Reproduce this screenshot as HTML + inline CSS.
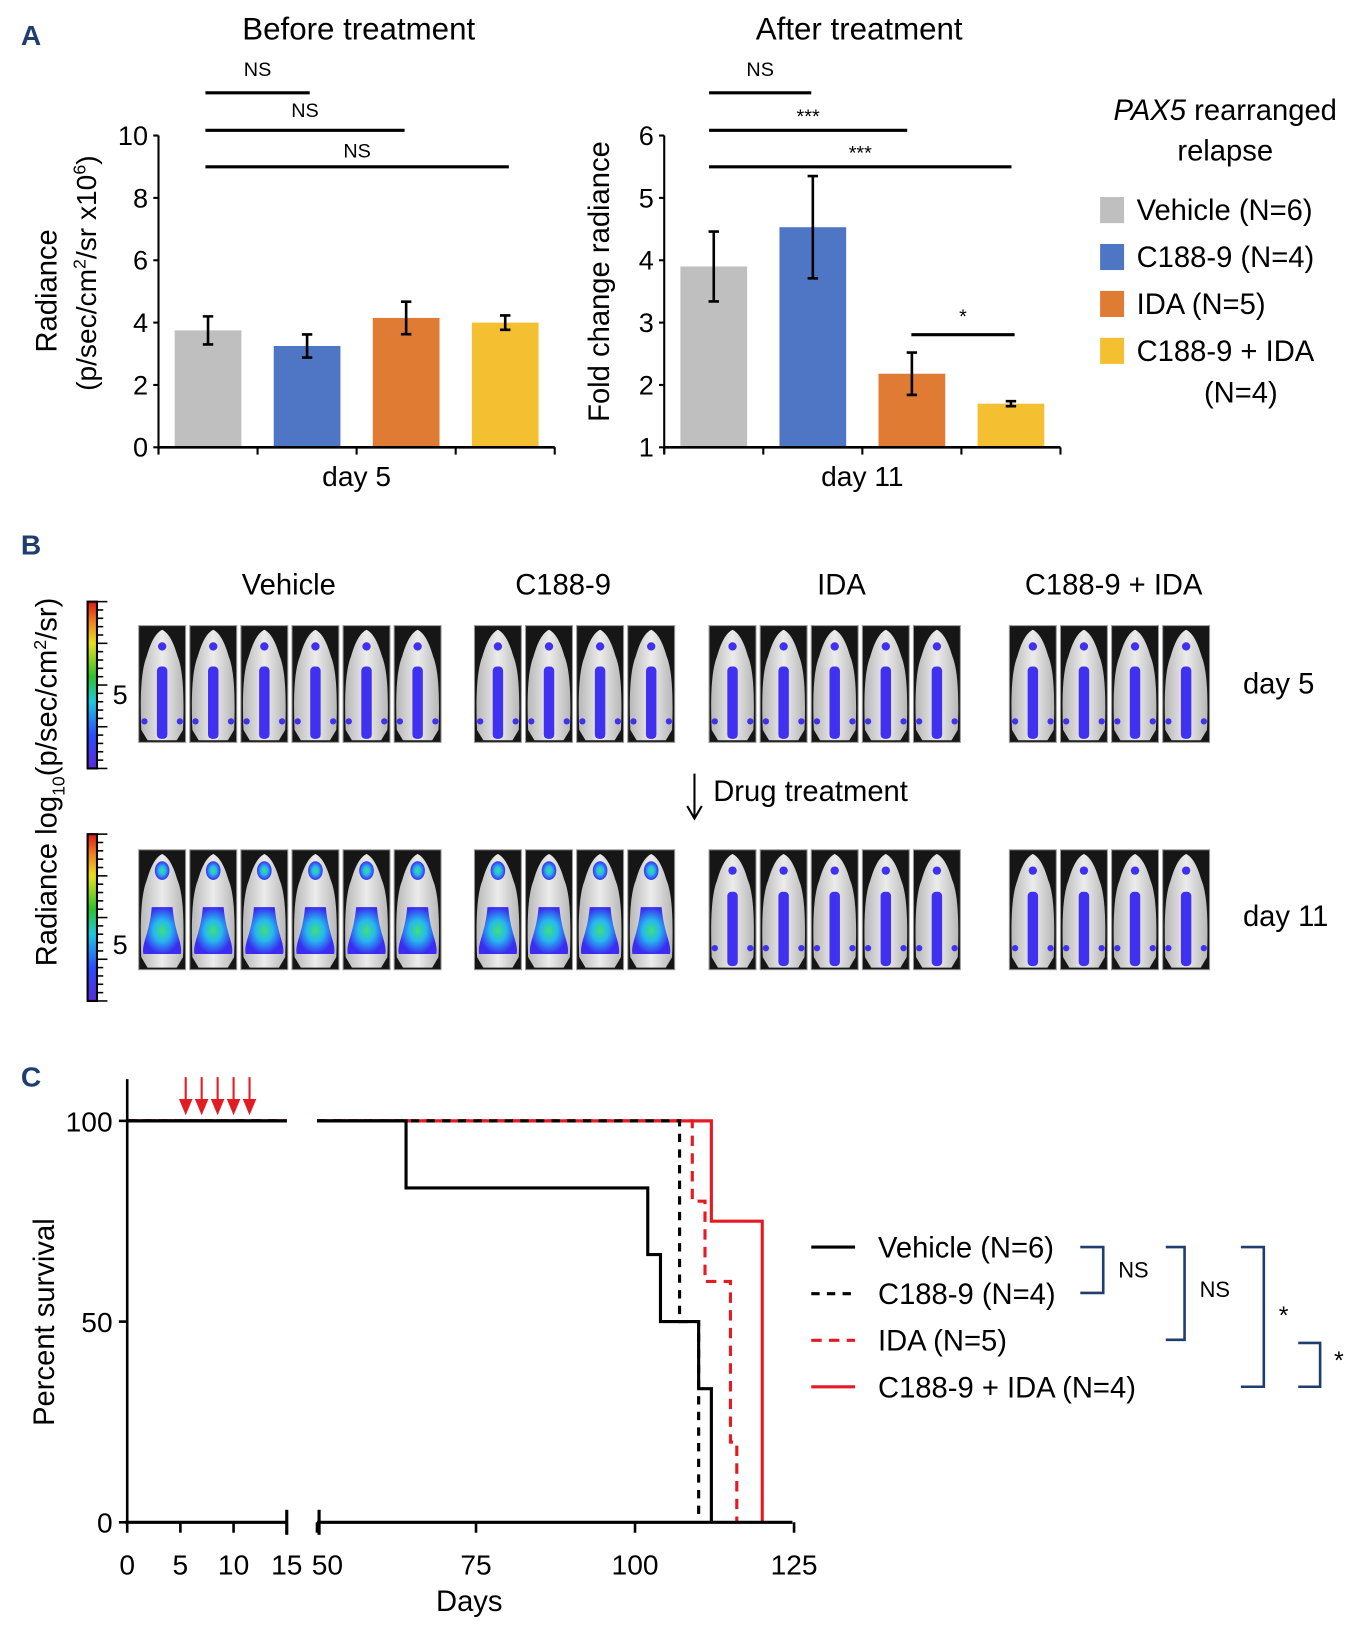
<!DOCTYPE html>
<html><head><meta charset="utf-8"><style>
html,body{margin:0;padding:0;background:#fff;}
svg{display:block;font-family:"Liberation Sans",sans-serif;}
</style></head><body>
<svg id="fig" width="1366" height="1637" viewBox="0 0 1310 1570" preserveAspectRatio="none" xmlns="http://www.w3.org/2000/svg">
<defs>
<linearGradient id="cbar" x1="0" y1="1" x2="0" y2="0">
<stop offset="0" stop-color="#5a2bd9"/><stop offset="0.2" stop-color="#2a4cff"/><stop offset="0.4" stop-color="#20c8e0"/><stop offset="0.55" stop-color="#2ec22e"/><stop offset="0.75" stop-color="#e8e020"/><stop offset="0.88" stop-color="#f08020"/><stop offset="1" stop-color="#e01818"/>
</linearGradient>
<radialGradient id="glow" cx="0.5" cy="0.5" r="0.5">
<stop offset="0" stop-color="#3de07a"/><stop offset="0.45" stop-color="#26b8f0"/><stop offset="1" stop-color="#3a2cf0"/>
</radialGradient>
<linearGradient id="fur" x1="0" y1="0" x2="1" y2="0">
<stop offset="0" stop-color="#b8b8b8"/><stop offset="0.5" stop-color="#ececec"/><stop offset="1" stop-color="#b8b8b8"/>
</linearGradient>
</defs>
<g fill="#1f3d6e" font-weight="bold" font-size="27">
<text x="20" y="43">A</text>
<text x="20" y="532">B</text>
<text x="20" y="1042">C</text>
</g>
<g id="panelA1"></g>
<g id="panelA2"></g>
<g id="legendA"></g>
<g id="panelB"></g>
<g id="panelC"></g>
</svg>
<script>
// ---- Panel A data ----
const groups = ["Vehicle (N=6)", "C188-9 (N=4)", "IDA (N=5)", "C188-9 + IDA"];
const colors = ["#bfbfbf", "#4f76c4", "#e07b33", "#f4bf31"];
const day5Mean = [3.75, 3.25, 4.15, 4.0];
const day5Err = [0.45, 0.37, 0.52, 0.23];
const day11Mean = [3.9, 4.53, 2.18, 1.7];
const day11Err = [0.56, 0.82, 0.34, 0.04];
const day5Ticks = [0, 2, 4, 6, 8, 10];
const day11Ticks = [1, 2, 3, 4, 5, 6];
// ---- Panel C data ----
const vehT = [0, 64, 102, 104, 110, 112];
const vehS = [100, 83.3, 66.7, 50, 33.3, 0];
const c188T = [0, 107, 110];
const c188S = [100, 50, 0];
const idaT = [0, 109, 111, 115, 116];
const idaS = [100, 80, 60, 20, 0];
const comboT = [0, 112, 120];
const comboS = [100, 75, 0];
const cXTicksLeft = [0, 5, 10, 15];
const cXTicksRight = [50, 75, 100, 125];
const cYTicks = [0, 50, 100];
const dosingDays = [5.5, 7, 8.5, 10, 11.5];

const NS = "http://www.w3.org/2000/svg";
function mk(parent, tag, attrs, text) {
  const e = document.createElementNS(NS, tag);
  for (const k in attrs) e.setAttribute(k, attrs[k]);
  if (text !== undefined) e.textContent = text;
  parent.appendChild(e);
  return e;
}

function barChart(g, means, errs, ticks, x0, x1, yTop, yBot, vmin, vmax, title, titleX, xlab) {
  const y = v => yBot - (v - vmin) / (vmax - vmin) * (yBot - yTop);
  const bw = (x1 - x0) / means.length;
  means.forEach((m, i) => {
    const cx = x0 + bw * (i + 0.5);
    const r = mk(g, 'rect', {x: cx - 32, y: y(m), width: 64, height: yBot - y(m), fill: colors[i]});
    
    
    const e = errs[i];
    const eb = mk(g, 'path', {d: `M${cx},${y(m + e)}V${y(m - e)}M${cx - 5},${y(m + e)}H${cx + 5}M${cx - 5},${y(m - e)}H${cx + 5}`, stroke: '#000', 'stroke-width': 2.5, fill: 'none'});
    
    
  });
  mk(g, 'line', {x1: x0, y1: yTop, x2: x0, y2: yBot + 6, stroke: '#000', 'stroke-width': 2});
  mk(g, 'line', {x1: x0, y1: yBot, x2: x1, y2: yBot, stroke: '#000', 'stroke-width': 2.5});
  for (let i = 0; i <= means.length; i++) mk(g, 'line', {x1: x0 + bw * i, y1: yBot, x2: x0 + bw * i, y2: yBot + 7, stroke: '#000', 'stroke-width': 2});
  ticks.forEach(t => {
    mk(g, 'line', {x1: x0 - 5, y1: y(t), x2: x0, y2: y(t), stroke: '#000', 'stroke-width': 2});
    const tl = mk(g, 'text', {x: x0 - 10, y: y(t) + 9, 'text-anchor': 'end', 'font-size': 26}, t);
    
    
  });
  const tt = mk(g, 'text', {x: titleX, y: 38, 'text-anchor': 'middle', 'font-size': 30}, title);
  
  
  const xl = mk(g, 'text', {x: (x0 + x1) / 2, y: 466, 'text-anchor': 'middle', 'font-size': 27}, xlab);
  
  
  return {y, bw};
}
function sig(g, xa, xb, yy, label, ly) {
  mk(g, 'line', {x1: xa, y1: yy, x2: xb, y2: yy, stroke: '#000', 'stroke-width': 3});
  const t = mk(g, 'text', {x: (xa + xb) / 2, y: ly, 'text-anchor': 'middle', 'font-size': 19}, label);
  
  
}

const gA1 = document.getElementById('panelA1');
barChart(gA1, day5Mean, day5Err, day5Ticks, 152, 532, 130, 429, 0, 10, 'Before treatment', 344, 'day 5');
sig(gA1, 197, 297, 89, 'NS', 73);
sig(gA1, 197, 388, 125, 'NS', 112);
sig(gA1, 197, 488, 160, 'NS', 151);
let yl = mk(gA1, 'text', {transform: 'translate(54,279) rotate(-90)', 'text-anchor': 'middle', 'font-size': 28}, 'Radiance');
 
yl = mk(gA1, 'text', {transform: 'translate(92,262) rotate(-90)', 'text-anchor': 'middle', 'font-size': 27});
yl.innerHTML = '(p/sec/cm<tspan font-size="17" dy="-10">2</tspan><tspan dy="10">/sr x10</tspan><tspan font-size="17" dy="-10">6</tspan><tspan dy="10">)</tspan>';
 

const gA2 = document.getElementById('panelA2');
barChart(gA2, day11Mean, day11Err, day11Ticks, 637, 1017, 130, 429, 1, 6, 'After treatment', 824, 'day 11');
sig(gA2, 680, 778, 89, 'NS', 73);
sig(gA2, 680, 870, 125, '***', 118);
sig(gA2, 680, 970, 160, '***', 153);
sig(gA2, 874, 973, 321, '*', 310);
yl = mk(gA2, 'text', {transform: 'translate(584,270) rotate(-90)', 'text-anchor': 'middle', 'font-size': 28}, 'Fold change radiance');
 

const gL = document.getElementById('legendA');
let lt = mk(gL, 'text', {x: 1175, y: 115, 'text-anchor': 'middle', 'font-size': 28});
lt.innerHTML = '<tspan font-style="italic">PAX5</tspan> rearranged';
 
lt = mk(gL, 'text', {x: 1175, y: 154, 'text-anchor': 'middle', 'font-size': 28}, 'relapse');
 
groups.forEach((name, i) => {
  const cy = 201 + i * 45;
  const sw = mk(gL, 'rect', {x: 1055, y: cy - 12, width: 23, height: 25, fill: colors[i]});
   
  const t = mk(gL, 'text', {x: 1090, y: cy + 10, 'font-size': 28}, name);
   
});
lt = mk(gL, 'text', {x: 1190, y: 386, 'text-anchor': 'middle', 'font-size': 28}, '(N=4)');
 

// ---- Panel B ----
const gB = document.getElementById('panelB');
const bLabels = ["Vehicle", "C188-9", "IDA", "C188-9 + IDA"];
const bLabelX = [277, 540, 807, 1068];
const bStart = [133, 455, 680, 968];
const bCount = [6, 4, 5, 4];
bLabels.forEach((l, i) => {
  const t = mk(gB, 'text', {x: bLabelX[i], y: 570, 'text-anchor': 'middle', 'font-size': 28}, l);
   
});
function mouse(x, y, w, h, strong) {
  const g = mk(gB, 'g', {});
   
  mk(g, 'rect', {x, y, width: w, height: h, fill: '#161616', stroke: '#999', 'stroke-width': 1});
  const cx = x + w / 2;
  mk(g, 'path', {d: `M${cx},${y + 4} C${cx + 8},${y + 8} ${cx + 12},${y + 20} ${cx + 15},${y + 30} C${cx + 21},${y + 45} ${cx + 21},${y + 75} ${cx + 20},${y + h - 12} L${cx + 14},${y + h - 2} L${cx - 14},${y + h - 2} L${cx - 20},${y + h - 12} C${cx - 21},${y + 75} ${cx - 21},${y + 45} ${cx - 15},${y + 30} C${cx - 12},${y + 20} ${cx - 8},${y + 8} ${cx},${y + 4}Z`, fill: 'url(#fur)'});
  if (strong) {
    mk(g, 'path', {d: `M${cx - 10},${y + 55} C${cx - 12},${y + 80} ${cx - 20},${y + 90} ${cx - 18},${y + h - 15} L${cx + 18},${y + h - 15} C${cx + 20},${y + 90} ${cx + 12},${y + 80} ${cx + 10},${y + 55}Z`, fill: 'url(#glow)'});
    mk(g, 'ellipse', {cx, cy: y + 20, rx: 7, ry: 9, fill: 'url(#glow)'});
  } else {
    mk(g, 'rect', {x: cx - 5, y: y + h * 0.35, width: 10, height: h * 0.62, fill: '#4030f0', rx: 4});
    mk(g, 'circle', {cx, cy: y + 20, r: 4, fill: '#4030f0'});
    mk(g, 'circle', {cx: cx - 17, cy: y + h * 0.82, r: 3, fill: '#4030f0'});
    mk(g, 'circle', {cx: cx + 17, cy: y + h * 0.82, r: 3, fill: '#4030f0'});
  }
}
bStart.forEach((s, gi) => {
  for (let k = 0; k < bCount[gi]; k++) {
    mouse(s + k * 49, 600, 45, 112, false);
    mouse(s + k * 49, 815, 45, 115, gi < 2);
  }
});
[[577, 666], [800, 906]].forEach(([top, fy]) => {
  const cb = mk(gB, 'rect', {x: 84, y: top, width: 9, height: 160, fill: 'url(#cbar)', stroke: '#000', 'stroke-width': 2});
   
  for (let k = 0; k <= 20; k++) mk(gB, 'line', {x1: 93, y1: top + k * 8, x2: k % 5 === 0 ? 103 : 99, y2: top + k * 8, stroke: '#000', 'stroke-width': 1.5});
  const t = mk(gB, 'text', {x: 108, y: fy + 9, 'font-size': 26}, '5');
   
});
let bt = mk(gB, 'text', {transform: 'translate(54,750) rotate(-90)', 'text-anchor': 'middle', 'font-size': 28});
bt.innerHTML = 'Radiance log<tspan font-size="17" dy="8">10</tspan><tspan dy="-8">(p/sec/cm</tspan><tspan font-size="17" dy="-10">2</tspan><tspan dy="10">/sr)</tspan>';
 
bt = mk(gB, 'text', {x: 1192, y: 665, 'font-size': 28}, 'day 5');  
bt = mk(gB, 'text', {x: 1192, y: 888, 'font-size': 28}, 'day 11');  
mk(gB, 'path', {d: 'M666,742V783M659,773L666,785L673,773', stroke: '#000', 'stroke-width': 2, fill: 'none'});
bt = mk(gB, 'text', {x: 684, y: 768, 'font-size': 28}, 'Drug treatment');  

// ---- Panel C ----
const gC = document.getElementById('panelC');
const yC = v => 1460 - v / 100 * 385;
const xC = d => d <= 15 ? 122 + d * 10.2 : 304 + (d - 50) * 6.1;
function drawKM(T, S, color, dash, name) {
  let d = '';
  for (let i = 0; i < T.length; i++) {
    const xs = xC(Math.max(T[i], 50));
    if (i === 0) d += `M${xC(50)},${yC(S[0])}`;
    else d += `H${xs}V${yC(S[i])}`;
  }
  const p = mk(gC, 'path', {d, stroke: color, 'stroke-width': 3, fill: 'none', 'stroke-dasharray': dash});
   
  const l = mk(gC, 'line', {x1: 122, y1: yC(S[0]), x2: 275, y2: yC(S[0]), stroke: color, 'stroke-width': 3, 'stroke-dasharray': dash});
   
}
drawKM(idaT, idaS, '#e31b23', '10,7', 'ida-curve');
drawKM(comboT, comboS, '#e31b23', 'none', 'combo-curve');
drawKM(vehT, vehS, '#000', 'none', 'vehicle-curve');
drawKM(c188T, c188S, '#000', '8,7', 'c188-curve');
mk(gC, 'line', {x1: 122, y1: 1035, x2: 122, y2: 1462, stroke: '#000', 'stroke-width': 2.5});
mk(gC, 'line', {x1: 120, y1: 1460, x2: 275, y2: 1460, stroke: '#000', 'stroke-width': 3});
mk(gC, 'line', {x1: 304, y1: 1460, x2: 760, y2: 1460, stroke: '#000', 'stroke-width': 3});
mk(gC, 'line', {x1: 275, y1: 1448, x2: 275, y2: 1472, stroke: '#000', 'stroke-width': 3});
mk(gC, 'line', {x1: 306, y1: 1448, x2: 306, y2: 1472, stroke: '#000', 'stroke-width': 3});
cXTicksLeft.concat(cXTicksRight).forEach(t => {
  const x = xC(t);
  mk(gC, 'line', {x1: x, y1: 1460, x2: x, y2: 1470, stroke: '#000', 'stroke-width': 2.5});
  const tl = mk(gC, 'text', {x: t === 50 ? x + 10 : x, y: 1510, 'text-anchor': 'middle', 'font-size': 27}, t);
   
});
cYTicks.forEach(t => {
  mk(gC, 'line', {x1: 114, y1: yC(t), x2: 122, y2: yC(t), stroke: '#000', 'stroke-width': 2.5});
  const tl = mk(gC, 'text', {x: 108, y: yC(t) + 10, 'text-anchor': 'end', 'font-size': 27}, t);
   
});
let ct = mk(gC, 'text', {x: 450, y: 1545, 'text-anchor': 'middle', 'font-size': 28}, 'Days');
 
ct = mk(gC, 'text', {transform: 'translate(52,1268) rotate(-90)', 'text-anchor': 'middle', 'font-size': 28}, 'Percent survival');
 
dosingDays.forEach(d => {
  const x = xC(d);
  const a = mk(gC, 'path', {d: `M${x},1033V1058M${x - 5},1055L${x},1067L${x + 5},1055Z`, stroke: '#e31b23', 'stroke-width': 2, fill: '#e31b23'});
   
});
const legC = [["Vehicle (N=6)", '#000', 'none'], ["C188-9 (N=4)", '#000', '8,7'], ["IDA (N=5)", '#e31b23', '10,7'], ["C188-9 + IDA (N=4)", '#e31b23', 'none']];
legC.forEach((e, i) => {
  const y = 1196 + i * 44.7;
  mk(gC, 'line', {x1: 778, y1: y, x2: 820, y2: y, stroke: e[1], 'stroke-width': 3, 'stroke-dasharray': e[2]});
  const t = mk(gC, 'text', {x: 842, y: y + 10, 'font-size': 28}, e[0]);
   
});
const bc = '#1f3d6e';
[[1036, 1196, 1240, 1058], [1118, 1196, 1285, 1136], [1190, 1196, 1330, 1212], [1245, 1288, 1330, 1266]].forEach(([x, y1, y2, xr]) => {
  const b = mk(gC, 'path', {d: `M${x},${y1}H${xr}V${y2}H${x}`, stroke: bc, 'stroke-width': 2.5, fill: 'none'});
   
});
[[1087, 1225, 'NS', 21], [1165, 1244, 'NS', 21], [1231, 1270, '*', 24], [1284, 1313, '*', 24]].forEach(([x, y, s, fs]) => {
  const t = mk(gC, 'text', {x, y, 'text-anchor': 'middle', 'font-size': fs}, s);
   
});
</script>
</body></html>
